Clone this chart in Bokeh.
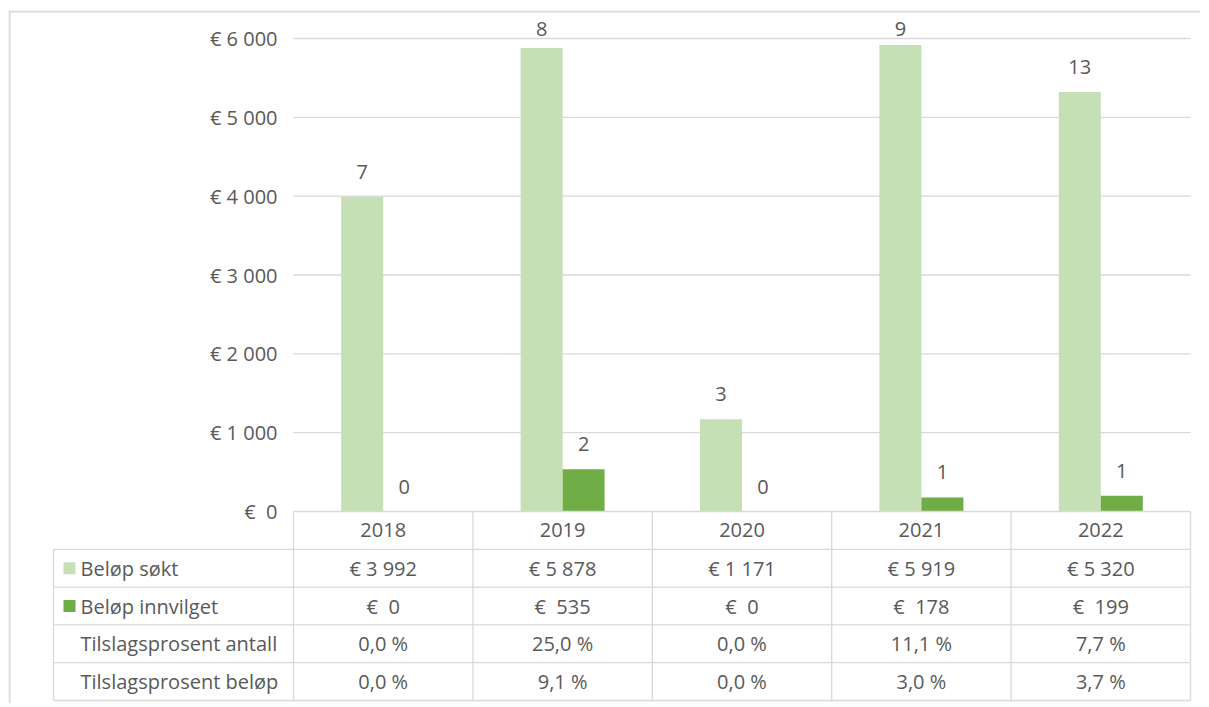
from bokeh.plotting import figure
from bokeh.models import ColumnDataSource, Range1d
from bokeh.embed import file_html
from bokeh.resources import INLINE
from bokeh.core.properties import value

# ---------------- data ----------------
years = ["2018", "2019", "2020", "2021", "2022"]
belop_sokt = [3992, 5878, 1171, 5919, 5320]
belop_innvilget = [0, 535, 0, 178, 199]
antall_sokt = [7, 8, 3, 9, 13]
antall_innvilget = [0, 2, 0, 1, 1]
tilslag_antall = [0.0, 25.0, 0.0, 11.1, 7.7]
tilslag_belop = [0.0, 9.1, 0.0, 3.0, 3.7]
y_ticks = [0, 1000, 2000, 3000, 4000, 5000, 6000]
row_names = ["Beløp søkt", "Beløp innvilget", "Tilslagsprosent antall", "Tilslagsprosent beløp"]

# ---------------- style / layout ----------------
LIGHT = "#C5E0B4"
DARK = "#70AD47"
TXT = "#595959"
LINE = "#D9D9D9"
FONT = value("Open Sans")
FS = "20px"

W, H = 1200, 703
BL, BT = 8, 10
FW, FH = W - BL, H - BT
COL_W = 179.4
PLOT_LEFT = 285.0
ZERO_Y = 501.0
PX_PER_UNIT = 473.0 / 6000
ROW_PX = 37.8
LABEL_COL_PX = 240.0
BAR_PX = 42.0

x_start = -0.5 - PLOT_LEFT / COL_W
x_end = x_start + FW / COL_W
y_end = ZERO_Y / PX_PER_UNIT
y_start = -(FH - ZERO_Y) / PX_PER_UNIT
RH = ROW_PX / PX_PER_UNIT
TL = -0.5 - LABEL_COL_PX / COL_W
BW = BAR_PX / COL_W
n = len(years)


def eur(v):
    s = f"{v:,}".replace(",", "\u00a0")
    return ("€\u00a0\u00a0" if v < 1000 else "€\u00a0") + s


def pct(v):
    return f"{v:.1f}".replace(".", ",") + "\u00a0%"


p = figure(width=W, height=H, x_range=Range1d(x_start, x_end), y_range=Range1d(y_start, y_end),
           output_backend="svg", toolbar_location=None, x_axis_location=None, y_axis_location=None,
           min_border_left=BL, min_border_top=BT, min_border_right=0, min_border_bottom=0,
           border_fill_color="white", background_fill_color="white", outline_line_color=None)
p.xgrid.visible = False
p.ygrid.visible = False

# chart-area frame (left and top edge)
p.segment(x0=[x_start + 1 / COL_W, x_start], x1=[x_start + 1 / COL_W, x_end],
          y0=[y_start, y_end - 1 / PX_PER_UNIT], y1=[y_end, y_end - 1 / PX_PER_UNIT],
          line_color="#DADADA", line_width=2)

# grid lines (chart area)
gy = [t for t in y_ticks if t > 0]
p.segment(x0=[-0.5] * len(gy), x1=[n - 0.5] * len(gy), y0=gy, y1=gy, line_color=LINE, line_width=1.3)

# bars
xs = list(range(n))
clamp = (ZERO_Y - 18 - 25) / PX_PER_UNIT
src = ColumnDataSource(dict(
    xs=[i - BW / 2 for i in xs], xi=[i + BW / 2 for i in xs],
    sokt=belop_sokt, innv=belop_innvilget,
    ls=[min(v, clamp) for v in belop_sokt], li=[min(v, clamp) for v in belop_innvilget],
    ns=[str(v) for v in antall_sokt], ni=[str(v) for v in antall_innvilget],
))
p.vbar(x="xs", top="sokt", bottom=0, width=BW, source=src, fill_color=LIGHT, line_color=None)
p.vbar(x="xi", top="innv", bottom=0, width=BW, source=src, fill_color=DARK, line_color=None)
p.text(x="xs", y="ls", text="ns", source=src, y_offset=-25, text_align="center", text_baseline="middle",
       text_font=FONT, text_font_size=FS, text_color=TXT)
p.text(x="xi", y="li", text="ni", source=src, y_offset=-25, text_align="center", text_baseline="middle",
       text_font=FONT, text_font_size=FS, text_color=TXT)

# y tick labels
p.text(x=[-0.5] * len(y_ticks), y=y_ticks, text=[eur(t) for t in y_ticks], x_offset=-16,
       text_align="right", text_baseline="middle", text_font=FONT, text_font_size=FS, text_color=TXT)

# table lines
nrows = 1 + len(row_names)
hy = [-k * RH for k in range(nrows + 1)]
hx0 = [-0.5] + [TL] * nrows
p.segment(x0=hx0, x1=[n - 0.5] * len(hy), y0=hy, y1=hy, line_color=LINE, line_width=1.3)
vx = [-0.5 + k for k in range(n + 1)]
p.segment(x0=vx, x1=vx, y0=[0] * len(vx), y1=[-nrows * RH] * len(vx), line_color=LINE, line_width=1.3)
p.segment(x0=[TL], x1=[TL], y0=[-RH], y1=[-nrows * RH], line_color=LINE, line_width=1.3)

# header years
p.text(x=xs, y=[-0.5 * RH] * n, text=years, text_align="center", text_baseline="middle",
       text_font=FONT, text_font_size=FS, text_color=TXT)

# row labels
row_y = [-(k + 1.5) * RH for k in range(len(row_names))]
p.text(x=[TL] * len(row_names), y=row_y, text=row_names, x_offset=27, text_align="left",
       text_baseline="middle", text_font=FONT, text_font_size=FS, text_color=TXT)
p.scatter(x=[TL + 16 / COL_W] * 2, y=row_y[:2], marker="square", size=12,
          fill_color=[LIGHT, DARK], line_color=None)

# row values
rows = [
    [eur(v) for v in belop_sokt],
    [eur(v) for v in belop_innvilget],
    [pct(v) for v in tilslag_antall],
    [pct(v) for v in tilslag_belop],
]
for k, vals in enumerate(rows):
    p.text(x=xs, y=[row_y[k]] * n, text=vals, text_align="center", text_baseline="middle",
           text_font=FONT, text_font_size=FS, text_color=TXT)

open("out.html", "w").write(file_html(p, INLINE))
